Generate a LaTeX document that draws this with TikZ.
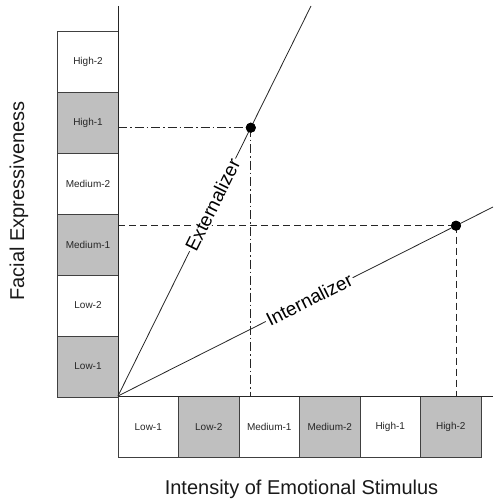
\documentclass[tikz,border=0pt]{standalone}
\usepackage{fontspec}
\setmainfont{Liberation Sans}
\begin{document}
\begin{tikzpicture}[x=1pt,y=-1pt,
  cell/.style={draw=black!75, line width=0.9pt, minimum width=60.5pt, minimum height=61pt,
    inner sep=0pt, outer sep=0pt, font=\fontsize{10}{12}\selectfont, text=black!85},
  shaded/.style={cell, fill=black!25},
  plain/.style={cell, fill=white},
  axis/.style={draw=black!85, line width=0.9pt},
  trend/.style={draw=black!85, line width=0.8pt},
  trendlabel/.style={fill=white, inner sep=1.5pt, sloped, font=\fontsize{19}{22}\selectfont},
  dot/.style={circle, fill=black, inner sep=0pt, minimum size=10pt},
  dashdot/.style={draw=black!85, line width=0.8pt, dash pattern=on 9pt off 3pt on 1.5pt off 3pt},
  dashline/.style={draw=black!85, line width=0.8pt, dash pattern=on 7pt off 4pt},
  axislabel/.style={font=\fontsize{20}{24}\selectfont, text=black!90}
]
\useasboundingbox (0,0) rectangle (493,502);

% left column
\node[plain]  (yh2) at (88, 61.5)  {High-2};
\node[shaded] (yh1) at (88, 122.5) {High-1};
\node[plain]  (ym2) at (88, 183.5) {Medium-2};
\node[shaded] (ym1) at (88, 244.5) {Medium-1};
\node[plain]  (yl2) at (88, 305.5) {Low-2};
\node[shaded] (yl1) at (88, 366.5) {Low-1};

% bottom row
\node[plain]  (xl1) at (148.25, 427) {Low-1};
\node[shaded] (xl2) at (208.75, 427) {Low-2};
\node[plain]  (xm1) at (269.25, 427) {Medium-1};
\node[shaded] (xm2) at (329.75, 427) {Medium-2};
\node[plain]  (xh1) at (390.25, 427) {High-1};
\node[shaded] (xh2) at (450.75, 427) {High-2};

% axes
\coordinate (O) at (118,396);
\coordinate (ytop) at (118,6);
\coordinate (xend) at (493,396);
\draw[axis] (ytop) -- (O) -- (xend);

% trend lines
\coordinate (etop) at (311,6);
\coordinate (iend) at (493,207);
\node[dot] (ed) at (250.8,127.7) {};
\node[dot] (id) at (456,225.7) {};

\coordinate (eax) at (118,127.7);
\coordinate (ebot) at (250.8,396);
\coordinate (iax) at (118,225.7);
\coordinate (ibot) at (456,396);

\draw[dashdot] (eax) -- (ed.center);
\draw[dashdot] (ed.center) -- (ebot);
\draw[dashline] (iax) -- (id.center);
\draw[dashline] (id.center) -- (ibot);

\draw[trend] (O) -- node[trendlabel, pos=0.49] {Externalizer} (etop);
\draw[trend] (O) -- node[trendlabel, pos=0.51] {Internalizer} (iend);

\node[dot] at (ed) {};
\node[dot] at (id) {};

% axis labels
\node[axislabel, rotate=90, anchor=base] (ylab) at (24,201) {Facial Expressiveness};
\node[axislabel, anchor=base] (xlab) at (301.5,494) {Intensity of Emotional Stimulus};
\end{tikzpicture}
\end{document}
